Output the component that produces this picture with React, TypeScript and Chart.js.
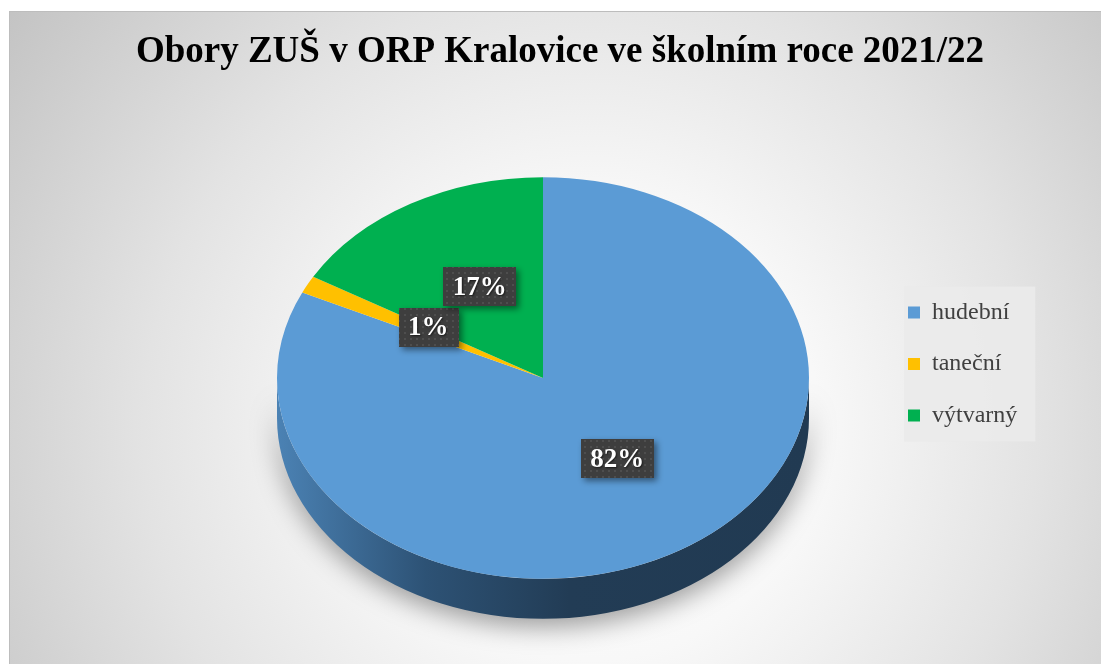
import { useEffect, useRef } from "react";
import { Chart, registerables } from "chart.js";

Chart.register(...registerables);

// ---- data ----
const chartTitle = "Obory ZUŠ v ORP Kralovice ve školním roce 2021/22";
const categories = ["hudební", "taneční", "výtvarný"];
const values = [410, 7, 83];
const sliceColors = ["#5b9bd5", "#ffc000", "#00b050"];
const sideShades = [
  ["#4b82b4", "#2d5275", "#223c55", "#213a52"],
  ["#c79500", "#a07800", "#806000", "#7a5c00"],
  ["#008a3e", "#006e31", "#005726", "#005224"],
];

// ---- layout ----
const W = 1101;
const H = 664;
const PIE = { cx: 543, cy: 378, r: 266, tilt: 0.755, depth: 40 };
const LEGEND = { left: 881, midY: 364 };
const TITLE_CENTER = 560;
const FONT = "'Liberation Serif', 'Times New Roman', serif";

function makePattern(ctx: CanvasRenderingContext2D) {
  const pc = document.createElement("canvas");
  pc.width = 6;
  pc.height = 6;
  const p = pc.getContext("2d")!;
  p.fillStyle = "#3e3e3e";
  p.fillRect(0, 0, 6, 6);
  p.fillStyle = "#4e4e4e";
  p.fillRect(2, 2, 2, 2);
  return ctx.createPattern(pc, "repeat");
}

const pie3d = {
  id: "pie3d",
  afterLayout(chart: any) {
    const { cx, cy, r } = PIE;
    chart.chartArea = {
      left: cx - r,
      right: cx + r,
      top: cy - r,
      bottom: cy + r,
      width: 2 * r,
      height: 2 * r,
    };
    const lg = chart.legend;
    if (lg) {
      const w = lg.width;
      const h = lg.height;
      const pad = lg.options.labels.padding;
      lg.left = LEGEND.left + 27 - pad;
      lg.right = lg.left + w;
      lg.top = LEGEND.midY - h / 2;
      lg.bottom = lg.top + h;
    }
    const tb = chart.titleBlock;
    if (tb) {
      const half = Math.min(tb.width, 2 * (W - TITLE_CENTER)) / 2;
      tb.left = TITLE_CENTER - half;
      tb.right = TITLE_CENTER + half;
    }
  },
  beforeDraw(chart: any) {
    const ctx: CanvasRenderingContext2D = chart.ctx;
    ctx.save();
    ctx.fillStyle = "#ffffff";
    ctx.fillRect(0, 0, W, H);
    const g = ctx.createRadialGradient(590, 430, 0, 590, 430, 720);
    g.addColorStop(0, "#ffffff");
    g.addColorStop(0.32, "#f8f8f8");
    g.addColorStop(0.62, "#e3e3e3");
    g.addColorStop(1, "#c3c3c3");
    ctx.fillStyle = g;
    ctx.fillRect(9, 11, W - 9, H - 11);
    ctx.strokeStyle = "#bdbdbd";
    ctx.lineWidth = 1;
    ctx.strokeRect(9.5, 11.5, W, H);
    // legend background
    const lg = chart.legend;
    if (lg && lg.legendHitBoxes && lg.legendHitBoxes.length) {
      const hb = lg.legendHitBoxes;
      const left = hb[0].left - 4;
      const top = hb[0].top - 14;
      let right = 0;
      hb.forEach((b: any) => (right = Math.max(right, b.left + b.width)));
      const last = hb[hb.length - 1];
      ctx.fillStyle = "rgba(234,234,234,0.92)";
      ctx.fillRect(left, top, right + 18 - left, last.top + last.height + 14 - top);
    }
    ctx.restore();
  },
  beforeDatasetsDraw(chart: any) {
    const ctx: CanvasRenderingContext2D = chart.ctx;
    const meta = chart.getDatasetMeta(0);
    const arcs = meta.data;
    ctx.save();
    if (arcs.length) {
      const cx = arcs[0].x;
      const cy = arcs[0].y;
      const R = arcs[0].outerRadius;
      const ry = R * PIE.tilt;
      const d = PIE.depth;
      const TAU = Math.PI * 2;
      // side walls (front half only)
      arcs.forEach((arc: any, i: number) => {
        const s = ((arc.startAngle % TAU) + TAU) % TAU;
        const e = s + (arc.endAngle - arc.startAngle);
        const pieces: [number, number][] = [];
        [[0, Math.PI], [TAU, TAU + Math.PI]].forEach(([a, b]) => {
          const p = Math.max(a, s);
          const q = Math.min(b, e);
          if (q > p) pieces.push([p, q]);
        });
        pieces.forEach(([p, q]) => {
          const shades = sideShades[i];
          const gr = ctx.createLinearGradient(cx - R, 0, cx + R, 0);
          gr.addColorStop(0, shades[0]);
          gr.addColorStop(0.28, shades[1]);
          gr.addColorStop(0.55, shades[2]);
          gr.addColorStop(1, shades[3]);
          ctx.save();
          ctx.shadowColor = "rgba(0,0,0,0.38)";
          ctx.shadowBlur = 26;
          ctx.shadowOffsetY = 8;
          ctx.beginPath();
          ctx.ellipse(cx, cy, R, ry, 0, p, q, false);
          ctx.lineTo(cx + R * Math.cos(q), cy + ry * Math.sin(q) + d);
          ctx.ellipse(cx, cy + d, R, ry, 0, q, p, true);
          ctx.closePath();
          ctx.fillStyle = gr;
          ctx.fill();
          ctx.restore();
        });
      });
      ctx.translate(cx, cy);
      ctx.scale(1, PIE.tilt);
      ctx.translate(-cx, -cy);
    }
  },
  afterDatasetsDraw(chart: any) {
    const ctx: CanvasRenderingContext2D = chart.ctx;
    ctx.restore();
    const meta = chart.getDatasetMeta(0);
    const data: number[] = chart.data.datasets[0].data;
    const total = data.reduce((a, b) => a + b, 0);
    const pattern = makePattern(ctx);
    ctx.save();
    ctx.font = `bold 27px ${FONT}`;
    ctx.textAlign = "center";
    ctx.textBaseline = "middle";
    meta.data.forEach((arc: any, i: number) => {
      const pos = arc.tooltipPosition(false);
      const x = pos.x + 3;
      const y = arc.y + (pos.y - arc.y) * PIE.tilt - 4;
      const txt = Math.round((data[i] / total) * 100) + "%";
      const tw = ctx.measureText(txt).width;
      const bw = tw + 19;
      const bh = 39;
      ctx.save();
      ctx.shadowColor = "rgba(0,0,0,0.45)";
      ctx.shadowBlur = 6;
      ctx.shadowOffsetX = 3;
      ctx.shadowOffsetY = 3;
      ctx.fillStyle = pattern || "#404040";
      ctx.fillRect(Math.round(x - bw / 2), Math.round(y - bh / 2), Math.round(bw), bh);
      ctx.restore();
      ctx.save();
      ctx.shadowColor = "rgba(0,0,0,0.6)";
      ctx.shadowBlur = 2;
      ctx.shadowOffsetX = 1;
      ctx.shadowOffsetY = 1;
      ctx.fillStyle = "#ffffff";
      ctx.fillText(txt, x, y + 1);
      ctx.restore();
    });
    ctx.restore();
  },
};

export default function App() {
  const ref = useRef<HTMLCanvasElement | null>(null);
  useEffect(() => {
    if (!ref.current) return;
    const chart = new Chart(ref.current, {
      type: "pie",
      data: {
        labels: categories,
        datasets: [
          {
            data: values,
            backgroundColor: sliceColors,
            borderWidth: 0,
            clip: false,
          } as any,
        ],
      },
      options: {
        responsive: false,
        animation: false,
        layout: { padding: 0 },
        plugins: {
          title: {
            display: true,
            text: chartTitle,
            color: "#000000",
            font: { family: FONT, size: 37, weight: "bold" },
            padding: { top: 30, bottom: 20 },
          },
          legend: {
            position: "right",
            labels: {
              font: { family: FONT, size: 24 },
              color: "#404040",
              boxWidth: 12,
              boxHeight: 12,
              padding: 27.5,
            },
          },
          tooltip: { enabled: false },
        },
      } as any,
      plugins: [pie3d as any],
    });
    return () => chart.destroy();
  }, []);
  return (
    <div style={{ position: "absolute", left: 0, top: 0, width: W, height: H, overflow: "hidden" }}>
      <canvas ref={ref} width={W} height={H} style={{ display: "block" }} />
    </div>
  );
}
